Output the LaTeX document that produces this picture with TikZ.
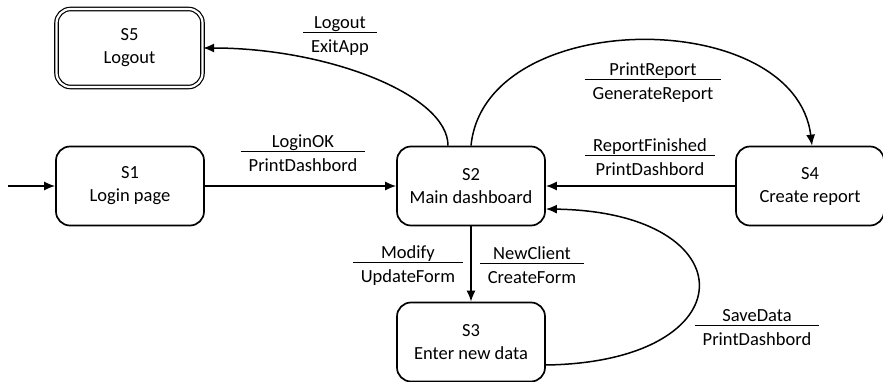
\documentclass[tikz,border=0pt]{standalone}
\usepackage{fontspec}
\setmainfont{Carlito}
\usetikzlibrary{arrows.meta}

% transition label: event above a rule, action below it
\newcommand{\evact}[2]{%
  \begin{tabular}{@{\hspace{8pt}}c@{\hspace{8pt}}}#1\\[-2.5pt]\hline\rule{0pt}{19pt}#2\end{tabular}}

\tikzset{
  state/.style={draw, rectangle, rounded corners=14pt, line width=1.7pt,
    minimum width=148pt, minimum height=79pt, align=center,
    font=\fontsize{18.5}{23}\selectfont, inner sep=0pt},
  finalstate/.style={state, line width=1.2pt, double, double distance=2.2pt,
    minimum width=146pt, minimum height=78pt},
  trans/.style={line width=1.5pt, -{Latex[length=11pt,width=9pt]}},
  evlabel/.style={inner sep=0pt, font=\fontsize{18.5}{22}\selectfont},
}

\begin{document}
\begin{tikzpicture}[x=1pt, y=-1pt]
  \useasboundingbox (0,0) rectangle (883,382);
  \setlength{\arrayrulewidth}{1pt}

  % states
  \node[finalstate] (s5) at (129.5,48) {S5\\Logout};
  \node[state] (s1) at (130,186) {S1\\Login page};
  \node[state] (s2) at (471,186) {S2\\Main dashboard};
  \node[state] (s4) at (810,186) {S4\\Create report};
  \node[state] (s3) at (471,342) {S3\\Enter new data};

  % initial transition
  \coordinate (init) at (8,186);
  \draw[trans] (init) -- (s1.west);

  % transitions
  \draw[trans] (s1.east) -- (s2.west);
  \draw[trans] (s4.west) -- (s2.east);
  \draw[trans] (s2.south) -- (s3.north);
  \draw[trans] ([xshift=-23pt]s2.north) .. controls +(0,-51) and +(124,0) .. (s5.east);
  \draw[trans] (s2.north) .. controls +(14,-140) and +(-17,-140) .. ([xshift=2pt]s4.north);
  \draw[trans] ([yshift=-23pt]s3.east) .. controls +(203,-3) and +(203,3) .. ([yshift=-23pt]s2.east);

  % transition labels
  \node[evlabel] (l12) at (303,155) {\evact{LoginOK}{PrintDashbord}};
  \node[evlabel] (l42) at (650,159) {\evact{ReportFinished}{PrintDashbord}};
  \node[evlabel] (l25) at (340,36) {\evact{Logout}{ExitApp}};
  \node[evlabel] (l24) at (653,83) {\evact{PrintReport}{GenerateReport}};
  \node[evlabel] (l23a) at (408,266) {\evact{Modify}{UpdateForm}};
  \node[evlabel] (l23b) at (532,267) {\evact{NewClient}{CreateForm}};
  \node[evlabel] (l32) at (757,329) {\evact{SaveData}{PrintDashbord}};
\end{tikzpicture}
\end{document}
